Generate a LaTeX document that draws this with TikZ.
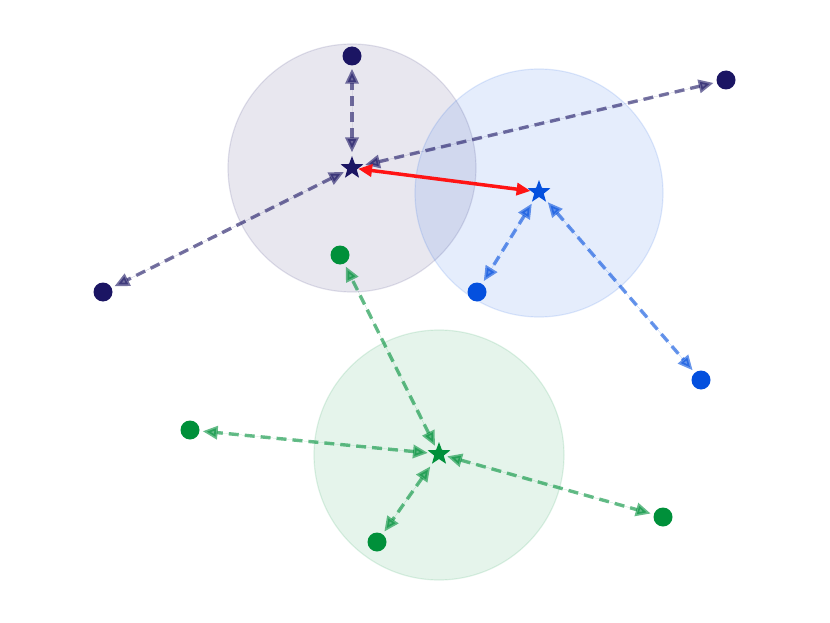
\documentclass[tikz,border=0pt]{standalone}
\usetikzlibrary{shapes.geometric,arrows.meta}
\pgfdeclarelayer{background}
\pgfsetlayers{background,main}
\definecolor{cnavy}{HTML}{1B1563}
\definecolor{cblue}{HTML}{0450DE}
\definecolor{cgreen}{HTML}{00903A}
\definecolor{cred}{HTML}{FF1414}
\tikzset{
  dot/.style={circle, minimum size=19pt, inner sep=0pt, fill=#1},
  cstar/.style={star, star points=5, star point ratio=2.4, minimum size=24pt, inner sep=0pt, fill=#1},
  region/.style={fill=#1, fill opacity=0.1, draw=#1, draw opacity=0.12, line width=1.2pt},
  link/.style={draw=#1, fill=#1, line width=3.4pt, dash pattern=on 10pt off 6pt, opacity=0.6,
    {Triangle[length=15pt,width=13pt]}-{Triangle[length=15pt,width=13pt]}, shorten <=3pt, shorten >=3pt},
  centre/.style={draw=cred, line width=3.5pt, {Triangle[length=14pt,width=12pt]}-{Triangle[length=14pt,width=12pt]}}
}
\begin{document}
\begin{tikzpicture}[x=1pt,y=-1pt]
\useasboundingbox (0,0) rectangle (830,623);
% cluster centres
\node[cstar=cnavy] (s1) at (352,168) {};
\node[cstar=cblue] (s2) at (539,192) {};
\node[cstar=cgreen] (s3) at (439,454) {};
% navy points
\node[dot=cnavy] (a1) at (352,56) {};
\node[dot=cnavy] (a2) at (726,80) {};
\node[dot=cnavy] (a3) at (103,292) {};
% blue points
\node[dot=cblue] (b1) at (477,292) {};
\node[dot=cblue] (b2) at (701,380) {};
% green points
\node[dot=cgreen] (g1) at (340,255) {};
\node[dot=cgreen] (g2) at (190,430) {};
\node[dot=cgreen] (g3) at (377,542) {};
\node[dot=cgreen] (g4) at (663,517) {};
\begin{pgfonlayer}{background}
\draw[region=cnavy] (352,168) circle (124);
\draw[region=cblue] (539,193) circle (124);
\draw[region=cgreen] (439,455) circle (125);
\path[link=cnavy] (s1) -- (a1);
\path[link=cnavy] (s1) -- (a2);
\path[link=cnavy] (s1) -- (a3);
\path[link=cblue] (s2) -- (b1);
\path[link=cblue] (s2) -- (b2);
\path[link=cgreen] (s3) -- (g1);
\path[link=cgreen] (s3) -- (g2);
\path[link=cgreen] (s3) -- (g3);
\path[link=cgreen] (s3) -- (g4);
\draw[centre] (s1) -- (s2);
\end{pgfonlayer}
\end{tikzpicture}
\end{document}
